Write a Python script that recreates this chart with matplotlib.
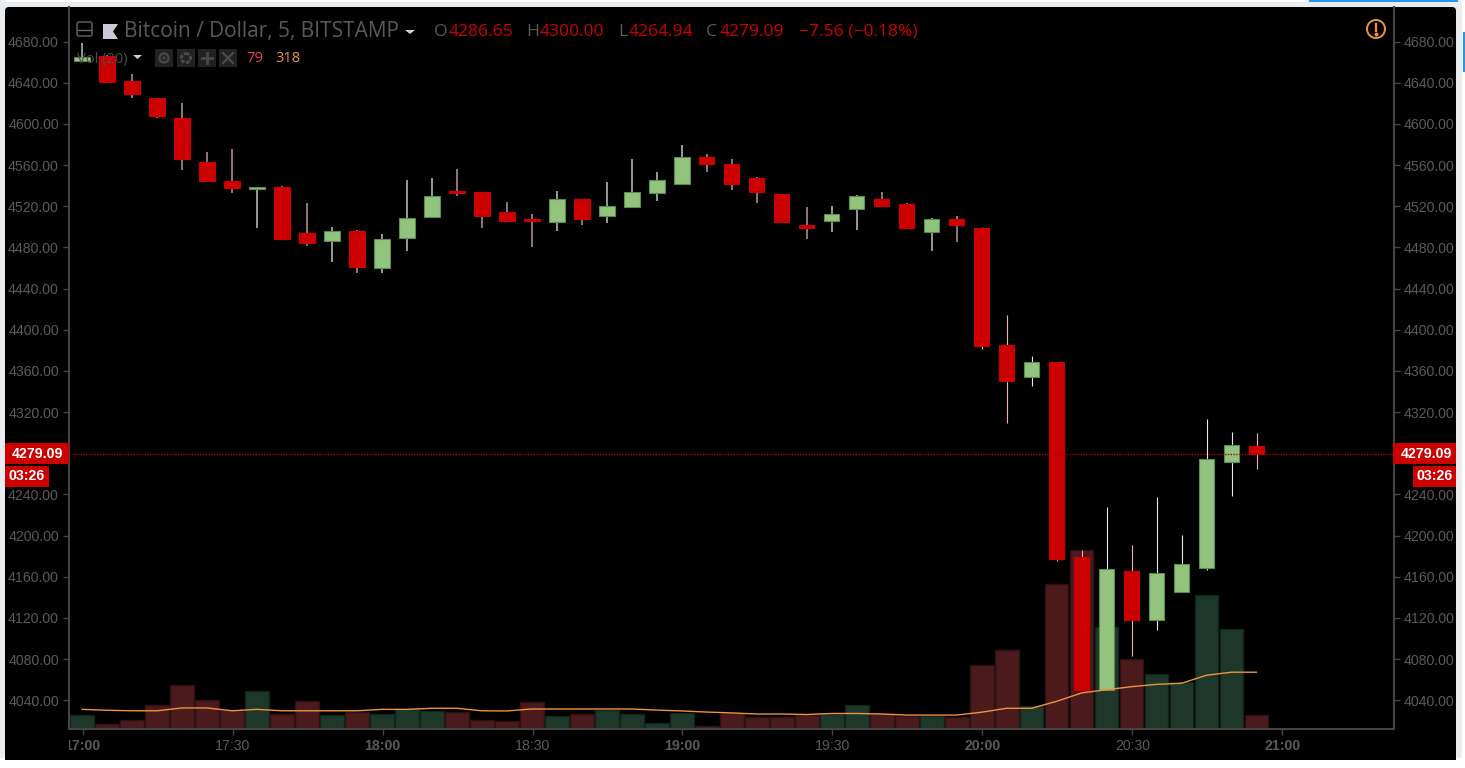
import matplotlib
matplotlib.use("Agg")
import matplotlib.pyplot as plt
from matplotlib.patches import Rectangle, Circle, FancyBboxPatch, Polygon
from matplotlib.transforms import Bbox

plt.rcParams['font.family'] = ['Liberation Sans', 'DejaVu Sans']

# ---- data -----
opens = [4661.5, 4666.4, 4641.8, 4624.9, 4605.5, 4562.7, 4544.5, 4536.4, 4538.4, 4493.6,
         4486.5, 4496.2, 4460.0, 4488.8, 4509.5, 4534.8, 4533.8, 4514.4, 4507.3, 4505.0,
         4526.7, 4510.8, 4519.6, 4532.9, 4541.3, 4567.9, 4560.7, 4547.4, 4531.6, 4502.0,
         4506.0, 4517.0, 4526.7, 4521.8, 4494.9, 4507.3, 4498.5, 4385.1, 4354.0, 4368.6,
         4178.9, 4050.0, 4165.3, 4118.0, 4144.9, 4168.8, 4271.1, 4286.65]
closes = [4665.1, 4641.1, 4628.8, 4608.0, 4565.6, 4544.9, 4537.7, 4538.4, 4487.8, 4484.2,
          4496.2, 4461.0, 4487.8, 4508.2, 4530.3, 4532.9, 4510.8, 4505.6, 4505.6, 4526.7,
          4507.3, 4520.5, 4533.8, 4545.8, 4567.9, 4560.7, 4541.3, 4534.2, 4505.0, 4498.8,
          4512.1, 4530.3, 4520.5, 4498.8, 4507.3, 4502.0, 4384.2, 4350.1, 4368.6, 4177.6,
          4050.0, 4167.9, 4118.0, 4164.0, 4172.7, 4274.7, 4288.0, 4279.09]
highs = [4679.0, 4667.0, 4648.6, 4625.2, 4620.4, 4572.4, 4575.3, 4538.6, 4540.0, 4522.8,
         4499.8, 4497.0, 4493.0, 4545.2, 4547.4, 4556.2, 4534.2, 4524.1, 4512.1, 4535.1,
         4527.0, 4543.6, 4565.9, 4553.3, 4579.2, 4570.8, 4565.9, 4548.4, 4532.2, 4519.2,
         4520.5, 4530.5, 4533.8, 4522.8, 4508.2, 4510.8, 4500.0, 4414.3, 4374.4, 4368.8,
         4186.0, 4227.4, 4190.8, 4237.8, 4200.6, 4313.5, 4301.0, 4300.0]
lows = [4661.5, 4641.0, 4624.9, 4605.5, 4555.2, 4544.7, 4532.5, 4498.5, 4487.2, 4481.7,
        4465.8, 4455.0, 4455.0, 4476.8, 4509.3, 4530.3, 4498.5, 4505.0, 4480.7, 4496.2,
        4502.0, 4503.4, 4519.4, 4525.4, 4541.2, 4553.3, 4535.8, 4522.8, 4504.8, 4488.5,
        4494.9, 4496.9, 4520.0, 4498.6, 4476.8, 4485.2, 4381.0, 4309.3, 4345.3, 4175.6,
        4049.8, 4049.8, 4083.0, 4108.3, 4144.7, 4166.6, 4238.4, 4264.94]
volumes = [78, 30, 50, 134, 246, 162, 106, 211, 86, 155,
           78, 94, 86, 114, 99, 94, 50, 43, 151, 73,
           84, 106, 84, 34, 90, 17, 90, 67, 67, 78,
           84, 134, 84, 73, 73, 67, 356, 441, 127, 814,
           1001, 573, 392, 308, 263, 749, 560, 79]
vol_ma = [110, 105, 102, 102, 118, 118, 102, 110, 102, 102,
          102, 102, 110, 110, 116, 116, 102, 101, 112, 112,
          112, 112, 112, 106, 101, 95, 90, 84, 84, 81,
          87, 87, 84, 78, 78, 78, 94, 116, 116, 155,
          202, 220, 237, 250, 256, 301, 318, 318]
price_ticks = [4040, 4080, 4120, 4160, 4200, 4240, 4320, 4360, 4400, 4440, 4480,
               4520, 4560, 4600, 4640, 4680]
time_labels = ['17:00', '17:30', '18:00', '18:30', '19:00', '19:30', '20:00', '20:30', '21:00']
time_positions = [0, 6, 12, 18, 24, 30, 36, 42, 48]
last_price = 4279.09

RED, GREEN, GREEN_EDGE = '#cc0000', '#93c47d', '#5c8a50'
VOL_RED, VOL_GREEN = '#4a1a1d', '#1d382b'
VOL_RED_E, VOL_GREEN_E = '#2e1113', '#122419'
AXC, TXT, ORANGE = '#454545', '#5a5a5a', '#f0923e'

W, H = 1465, 768
fig = plt.figure(figsize=(W / 100, H / 100), dpi=100, facecolor='white')

def axes_px(l, t, r, b, **kw):
    return fig.add_axes([l / W, 1 - b / H, (r - l) / W, (b - t) / H], **kw)

# page + panel
bg = axes_px(0, 0, W, H, zorder=0)
bg.set_xlim(0, W); bg.set_ylim(H, 0); bg.axis('off')
bg.add_patch(Rectangle((0, 0), 1462, 758, fc='#e9edf0', ec='none'))
bg.add_patch(Rectangle((6, 0), 1300, 2, fc='white', ec='none'))
bg.add_patch(Rectangle((1309, 0), 149, 2, fc='#2196f3', ec='none'))
bg.add_patch(Rectangle((1463, 32), 2, 40, fc='#2196f3', ec='none'))
bg.add_patch(FancyBboxPatch((8, 10), 1445, 747, boxstyle='round,pad=3,rounding_size=4', fc='black', ec='none'))
bg.add_patch(Rectangle((5, 752), 1451, 8, fc='black', ec='none'))

L, T, R, B = 68.5, 7, 1393.5, 729
X0, DX = 82.0, 24.99
xlim = ((L - X0) / DX, (R - X0) / DX)
Y_HI, Y_LO = 41.6, 700.2
PX = (Y_LO - Y_HI) / 640

# volume
axv = axes_px(L, T, R, B, zorder=1)
axv.patch.set_alpha(0)
axv.set_xlim(*xlim); axv.set_ylim(0, (B - T) * 5.6); axv.axis('off')
xs = list(range(len(opens)))
up = [c >= o for o, c in zip(opens, closes)]
axv.bar(xs, volumes, width=0.95,
        color=[VOL_GREEN if u else VOL_RED for u in up],
        edgecolor=[VOL_GREEN_E if u else VOL_RED_E for u in up], linewidth=1)

# price
ax = axes_px(L, T, R, B, zorder=2)
ax.patch.set_alpha(0)
ax.set_xlim(*xlim)
ax.set_ylim(4040 - (B - Y_LO) / PX, 4680 + (Y_HI - T) / PX)
for i, (o, h, l, c, u) in enumerate(zip(opens, highs, lows, closes, up)):
    late = i >= 36
    wc = ('#e8e8e8' if u else '#f0b0b0') if late else ('#a5a5a5' if u else '#a07f7f')
    ax.vlines(i, l, h, color=wc, lw=0.8 if late else 1.3, zorder=2)
ax.bar(xs, [abs(c - o) for o, c in zip(opens, closes)],
       bottom=[min(o, c) for o, c in zip(opens, closes)], width=0.62,
       color=[GREEN if u else RED for u in up],
       edgecolor=[GREEN_EDGE if u else RED for u in up],
       linewidth=0.8, zorder=3)
ax.axhline(last_price, color='#b00000', lw=1.0, ls=(0, (1, 1)), zorder=4)
axv2 = axes_px(L, T, R, B, zorder=2.5)
axv2.patch.set_alpha(0)
axv2.set_xlim(*xlim); axv2.set_ylim(0, (B - T) * 5.6); axv2.axis('off')
axv2.plot(xs, vol_ma, color=ORANGE, lw=1.0)

ax.spines['top'].set_visible(False)
for s in ['left', 'right', 'bottom']:
    ax.spines[s].set_color(AXC); ax.spines[s].set_linewidth(1.5)
ax.set_yticks(price_ticks)
ax.set_yticklabels([f'{p:.2f}' for p in price_ticks])
ax.tick_params(axis='y', which='both', left=True, right=True, labelleft=True, labelright=True,
               length=4.5, width=1, color=AXC, labelcolor=TXT, labelsize=10.2, pad=2.5)
ax.set_xticks([p + 0.028 for p in time_positions])
ax.set_xticklabels(time_labels)
ax.tick_params(axis='x', length=4, width=1, color=AXC, labelcolor=TXT, labelsize=10.2, pad=3)
clip = Bbox.from_extents(L + 0.5, 0, W, H)
for lab, txt in zip(ax.get_xticklabels(), time_labels):
    if txt.endswith(':00'):
        lab.set_fontweight('bold')
    lab.set_clip_box(clip)
    lab.set_clip_on(True)

# overlay (pixel coordinates)
ov = axes_px(0, 0, W, H, zorder=5)
ov.patch.set_alpha(0)
ov.set_xlim(0, W); ov.set_ylim(H, 0); ov.axis('off')

for (x0, x1, y0, y1, s, tx) in [(5, 69, 443, 464, f'{last_price:.2f}', 37),
                                (1393, 1456, 443, 464, f'{last_price:.2f}', 1426),
                                (5, 49, 466, 487, '03:26', 27),
                                (1413, 1456, 466, 487, '03:26', 1434.5)]:
    ov.add_patch(Rectangle((x0, y0), x1 - x0, y1 - y0, fc=RED, ec='none'))
    ov.text(tx, (y0 + y1) / 2, s, color='white', fontsize=10.2, fontweight='bold', ha='center', va='center')

HF = 'Open Sans'
def top(x, y, s, c, size=12.6):
    ov.text(x, y, s, color=c, fontsize=size, family=[HF, 'DejaVu Sans'], ha='left', va='center')

GR = '#5a5a5a'
top(123.5, 32, 'Bitcoin / Dollar, 5, BITSTAMP', GR, 15)
for x, s in [(434, 'O'), (526, 'H'), (618, 'L'), (706, 'C')]:
    top(x, 32, s, GR)
for x, s in [(449, '4286.65'), (540, '4300.00'), (629, '4264.94'), (720, '4279.09'), (799, '\u22127.56 (\u22120.18%)')]:
    top(x, 32, s, RED)
top(77, 59, 'Vol (20)', '#4d4d4d', 10.5)
top(246.5, 59, '79', '#e2475c', 10.8)
top(275, 59, '318', ORANGE, 10.5)

# header furniture
ov.add_patch(FancyBboxPatch((77.5, 22.5), 14, 13, boxstyle='round,pad=0.5,rounding_size=2', fc='none', ec='#666666', lw=1))
ov.plot([78, 91], [29.5, 29.5], color='#666666', lw=1)
ov.add_patch(Polygon([(103, 24), (118, 24), (113, 31.5), (118, 39), (103, 39)], closed=True, fc='#c8ccd6', ec='none'))
for pts in ([(405, 30), (415, 30), (410, 34)], [(133, 55), (142, 55), (137.5, 59)]):
    ov.add_patch(Polygon(pts, closed=True, fc='#d0d0d0', ec='none'))
for x in (155, 177, 198, 219):
    ov.add_patch(Rectangle((x, 49), 18, 18, fc='#222222', ec='none'))
ICON = '#4a4a4a'
ov.add_patch(Circle((164, 58), 4.5, fc='none', ec=ICON, lw=1.5))
ov.add_patch(Circle((164, 58), 1.6, fc=ICON, ec='none'))
ov.add_patch(Circle((186, 58), 4.5, fc='none', ec=ICON, lw=2.2, ls=(0, (1.2, 0.5))))
ov.plot([202, 212], [58, 58], color=ICON, lw=2)
ov.plot([207, 207], [53, 63], color=ICON, lw=2)
ov.plot([223, 233], [53, 63], color=ICON, lw=1.6)
ov.plot([223, 233], [63, 53], color=ICON, lw=1.6)
ov.add_patch(Circle((1376, 29), 9, fc='none', ec=ORANGE, lw=1.4))
ov.plot([1376, 1376], [23.5, 31], color=ORANGE, lw=1.6)
ov.plot([1376], [34], marker='o', ms=1.8, color=ORANGE)

fig.savefig('out.png', dpi=100, facecolor=fig.get_facecolor())
